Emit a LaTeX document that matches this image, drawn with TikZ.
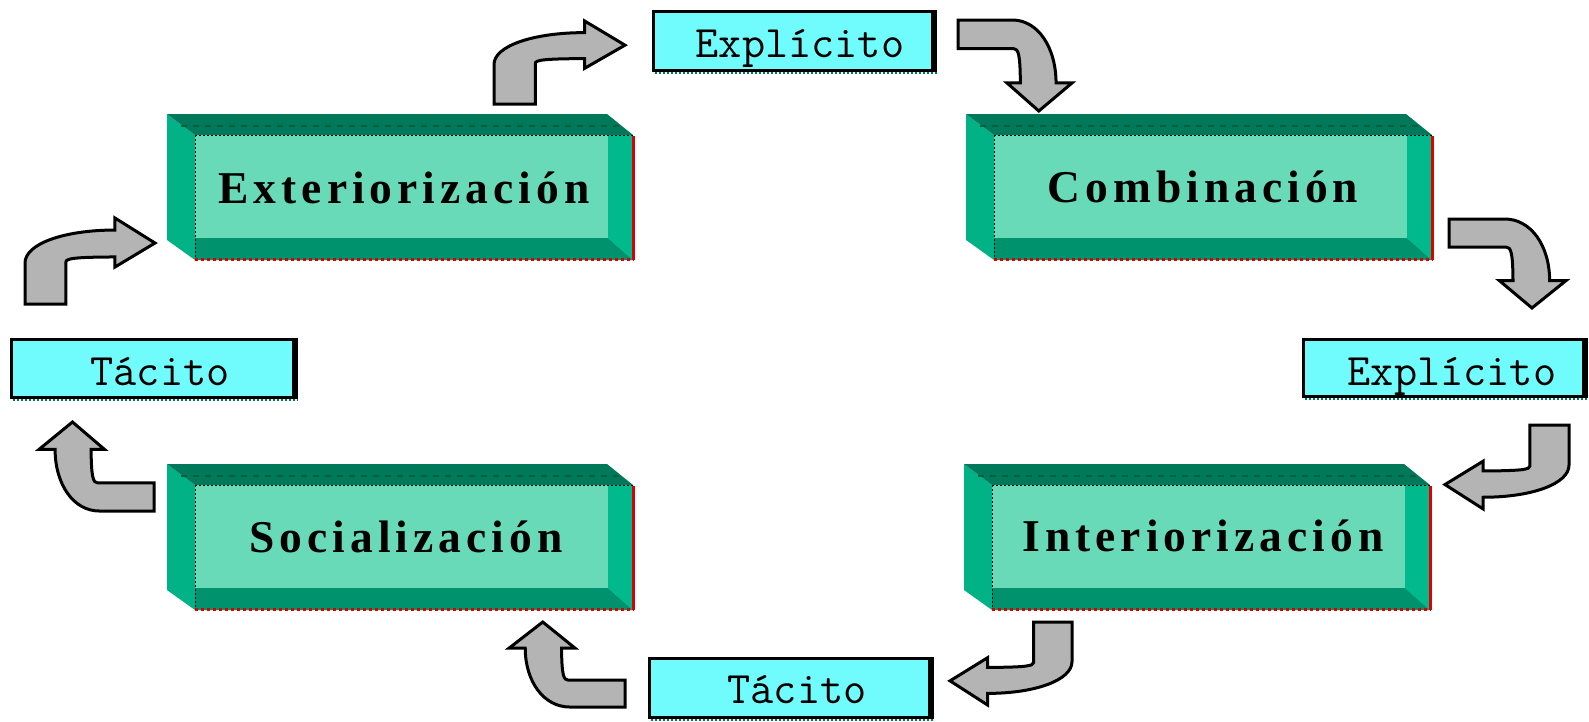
\documentclass[tikz,border=0pt]{standalone}
\usepackage{fontspec}
\setmainfont{Liberation Serif}
\newfontfamily\labfont{Liberation Serif}[LetterSpace=11]
\definecolor{topc}{RGB}{0,120,90}
\definecolor{leftc}{RGB}{0,178,134}
\definecolor{frontc}{RGB}{104,218,184}
\definecolor{botc}{RGB}{0,146,108}
\definecolor{rightc}{RGB}{0,185,140}
\definecolor{dashc}{RGB}{0,95,60}
\definecolor{cyanc}{RGB}{112,252,252}
\definecolor{arrowc}{RGB}{180,180,180}
\definecolor{redc}{RGB}{220,0,0}
\tikzset{
  boldlab/.style={font=\fontsize{45.5}{50}\labfont\bfseries, anchor=base, inner sep=0pt},
  ttlab/.style={font=\fontsize{45}{50}\selectfont\ttfamily, anchor=base, inner sep=0pt},
  blockarrow/.style={fill=arrowc, draw=black, line width=3pt, line join=miter},
}
\newcommand\tdbox[2]{%
  \fill[leftc] (#1,#2) -- (#1+28,#2+21) -- (#1+28,#2+146) -- (#1,#2+126) -- cycle;
  \fill[topc] (#1,#2) -- (#1+440,#2) -- (#1+466,#2+21) -- (#1+28,#2+21) -- cycle;
  \fill[frontc] (#1+28,#2+21) rectangle (#1+466,#2+146);
  \fill[botc] (#1+28,#2+124) -- (#1+441,#2+124) -- (#1+466,#2+146) -- (#1+28,#2+146) -- cycle;
  \fill[rightc] (#1+441,#2+21) -- (#1+466,#2+21) -- (#1+466,#2+146) -- (#1+441,#2+124) -- cycle;
  \draw[dashc, line width=1.5pt, dash pattern=on 6pt off 6pt] (#1+14,#2+12) -- (#1+452,#2+12);
  \draw[black, line width=1.8pt, dash pattern=on 2pt off 2pt] (#1+28,#2+21.5) -- (#1+466,#2+21.5);
  \draw[black, line width=1.8pt, dash pattern=on 2pt off 2pt] (#1+28.5,#2+21) -- (#1+28.5,#2+146);
  \draw[redc, line width=2.5pt, dash pattern=on 3pt off 3pt] (#1+28,#2+145.5) -- (#1+467,#2+145.5);
  \draw[redc, line width=3pt] (#1+466,#2+22) -- (#1+466,#2+146);
}
\newcommand\cbox[4]{%
  \fill[cyanc] (#1,#2) rectangle (#3,#4);
  \draw[black, line width=3pt] (#1+1.5,#2+1.5) rectangle (#3-1.5,#4-1.5);
  \fill[black] (#3-6,#2) rectangle (#3,#4);
  \draw[topc, line width=2.5pt, dash pattern=on 2pt off 2pt] (#1+3,#4+1.2) -- (#3,#4+1.2);
}
\newcommand\arrowpath{(0,1) -- (0.315,1) -- (0.315,0.512) .. controls (0.315,0.47) and (0.38,0.455) .. (0.692,0.453) -- (0.692,0.570) -- (1,0.291) -- (0.692,0) -- (0.692,0.140) .. controls (0.30,0.14) and (0,0.30) .. (0,0.523) -- cycle}
\begin{document}
\begin{tikzpicture}[x=1pt, y=-1pt]
\useasboundingbox (0,0) rectangle (1589,721);
\fill[white] (0,0) rectangle (1589,721);
% 3D boxes
\tdbox{167}{114}
\tdbox{966}{114}
\tdbox{167}{464}
\tdbox{964}{464}
\node[boldlab] (ext) at (404,203) {Exteriorización};
\node[boldlab] (com) at (1203,202) {Combinación};
\node[boldlab] (soc) at (406,552) {Socialización};
\node[boldlab] (int) at (1203,551) {Interiorización};
% cyan boxes
\cbox{652}{10}{937}{72}
\cbox{10}{338}{298}{399}
\cbox{1302}{338}{1588}{398}
\cbox{648}{657}{934}{719}
\node[ttlab] (exp1) at (800,57) {Explícito};
\node[ttlab] (tac1) at (160,385) {Tácito};
\node[ttlab] (exp2) at (1452,385) {Explícito};
\node[ttlab] (tac2) at (797,703) {Tácito};
% bent block arrows
\begin{scope}[shift={(25,218)}, x={(130pt,0pt)}, y={(0pt,-86pt)}]
  \draw[blockarrow] \arrowpath;
\end{scope}
\begin{scope}[shift={(494,21)}, x={(131pt,0pt)}, y={(0pt,-83pt)}]
  \draw[blockarrow] \arrowpath;
\end{scope}
\begin{scope}[shift={(1072,20)}, x={(0pt,-91pt)}, y={(-114pt,0pt)}]
  \draw[blockarrow] \arrowpath;
\end{scope}
\begin{scope}[shift={(1566,219)}, x={(0pt,-89pt)}, y={(-117pt,0pt)}]
  \draw[blockarrow] \arrowpath;
\end{scope}
\begin{scope}[shift={(1569,509)}, x={(-124pt,0pt)}, y={(0pt,84pt)}]
  \draw[blockarrow] \arrowpath;
\end{scope}
\begin{scope}[shift={(1072,705)}, x={(-122pt,0pt)}, y={(0pt,83pt)}]
  \draw[blockarrow] \arrowpath;
\end{scope}
\begin{scope}[shift={(509,707)}, x={(0pt,85pt)}, y={(116pt,0pt)}]
  \draw[blockarrow] \arrowpath;
\end{scope}
\begin{scope}[shift={(39,511)}, x={(0pt,89pt)}, y={(115pt,0pt)}]
  \draw[blockarrow] \arrowpath;
\end{scope}
\end{tikzpicture}
\end{document}
